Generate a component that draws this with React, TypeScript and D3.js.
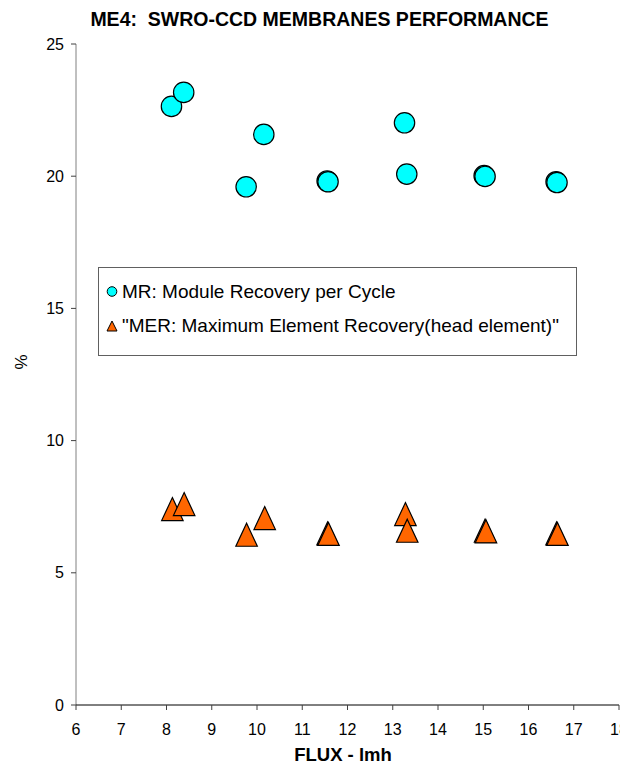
import React from "react";
import * as d3 from "d3";

const W = 635;
const H = 767;

const TITLE = "ME4:  SWRO-CCD MEMBRANES PERFORMANCE";
const X_LABEL = "FLUX - lmh";
const Y_LABEL = "%";
const X_TICKS = [6, 7, 8, 9, 10, 11, 12, 13, 14, 15, 16, 17, 18];
const Y_TICKS = [0, 5, 10, 15, 20, 25];

const MR_NAME = "MR: Module Recovery per Cycle";
const MER_NAME = "\"MER: Maximum Element Recovery(head element)\"";

const fluxMR = [8.11, 8.38, 9.76, 10.15, 11.55, 11.57, 13.26, 13.31, 15.02, 15.04, 16.61, 16.63];
const mr = [22.64, 23.17, 19.6, 21.58, 19.82, 19.79, 22.02, 20.08, 20.02, 19.99, 19.79, 19.76];

const fluxMER = [8.13, 8.39, 9.77, 10.17, 11.56, 11.58, 13.28, 13.32, 15.04, 15.06, 16.62, 16.64];
const mer = [7.41, 7.6, 6.44, 7.07, 6.49, 6.47, 7.22, 6.59, 6.59, 6.57, 6.49, 6.47];

function triPath(w: number, h: number): string {
  const p = d3.path();
  p.moveTo(0, -h / 2);
  p.lineTo(w / 2, h / 2);
  p.lineTo(-w / 2, h / 2);
  p.closePath();
  return p.toString();
}

export default function App() {
  const x = d3.scaleLinear().domain([6, 18]).range([76, 619]);
  const y = d3.scaleLinear().domain([0, 25]).range([705, 44]);
  const font = "Arial, 'Liberation Sans', sans-serif";
  const tri = triPath(21.5, 23);
  const triSmall = triPath(10, 10);

  return (
    <svg
      width={W}
      height={H}
      style={{ position: "absolute", left: 0, top: 0, background: "#fff" }}
      fontFamily={font}
    >
      <defs>
        <clipPath id="clipR">
          <rect x={0} y={0} width={620} height={H} />
        </clipPath>
      </defs>
      <rect x={0} y={0} width={W} height={H} fill="#fff" />
      <text
        x={319.5}
        y={25.5}
        textAnchor="middle"
        fontSize={19.5}
        fontWeight="bold"
        fill="#000"
        style={{ whiteSpace: "pre" }}
      >
        {TITLE}
      </text>

      {/* y axis */}
      <line x1={x(6)} x2={x(6)} y1={y(25)} y2={y(0)} stroke="#808080" strokeWidth={1} />
      {Y_TICKS.map((t) => (
        <g key={"y" + t}>
          <line x1={x(6) - 5} x2={x(6)} y1={y(t)} y2={y(t)} stroke="#404040" />
          <text x={x(6) - 12} y={y(t)} dy="0.35em" textAnchor="end" fontSize={16} fill="#000">
            {t}
          </text>
        </g>
      ))}
      {/* x axis */}
      <g clipPath="url(#clipR)">
        <line x1={x(6)} x2={x(18)} y1={y(0)} y2={y(0)} stroke="#000" strokeWidth={1} />
        {X_TICKS.map((t) => (
          <g key={"x" + t}>
            <line x1={x(t)} x2={x(t)} y1={y(0)} y2={y(0) + 5} stroke="#404040" />
            <text x={x(t)} y={y(0) + 24} dy="0.35em" textAnchor="middle" fontSize={16} fill="#000">
              {t}
            </text>
          </g>
        ))}
      </g>
      <text x={343} y={761} textAnchor="middle" fontSize={18.5} fontWeight="bold" fill="#000">
        {X_LABEL}
      </text>
      <text
        transform={`translate(21,362) rotate(-90)`}
        textAnchor="middle"
        dy="0.35em"
        fontSize={17}
        fill="#000"
      >
        {Y_LABEL}
      </text>

      {/* MR circles */}
      {fluxMR.map((f, i) => (
        <circle
          key={"c" + i}
          cx={x(f)}
          cy={y(mr[i])}
          r={10.2}
          fill="#00FFFF"
          stroke="#000"
          strokeWidth={1.2}
        />
      ))}
      {/* MER triangles */}
      {fluxMER.map((f, i) => (
        <path
          key={"t" + i}
          d={tri}
          transform={`translate(${x(f)},${y(mer[i])})`}
          fill="#FF6600"
          stroke="#000"
          strokeWidth={1.2}
          strokeLinejoin="miter"
        />
      ))}

      {/* legend */}
      <rect x={98.5} y={267.5} width={478} height={88} fill="#fff" stroke="#606060" strokeWidth={1} />
      <circle cx={112} cy={291.5} r={4.8} fill="#00FFFF" stroke="#000" strokeWidth={1} />
      <text x={122} y={291.5} dy="0.35em" fontSize={19} fill="#000">
        {MR_NAME}
      </text>
      <path d={triSmall} transform="translate(112,326)" fill="#FF6600" stroke="#000" strokeWidth={1} />
      <text x={122} y={325} dy="0.35em" fontSize={19} fill="#000">
        {MER_NAME}
      </text>
    </svg>
  );
}
